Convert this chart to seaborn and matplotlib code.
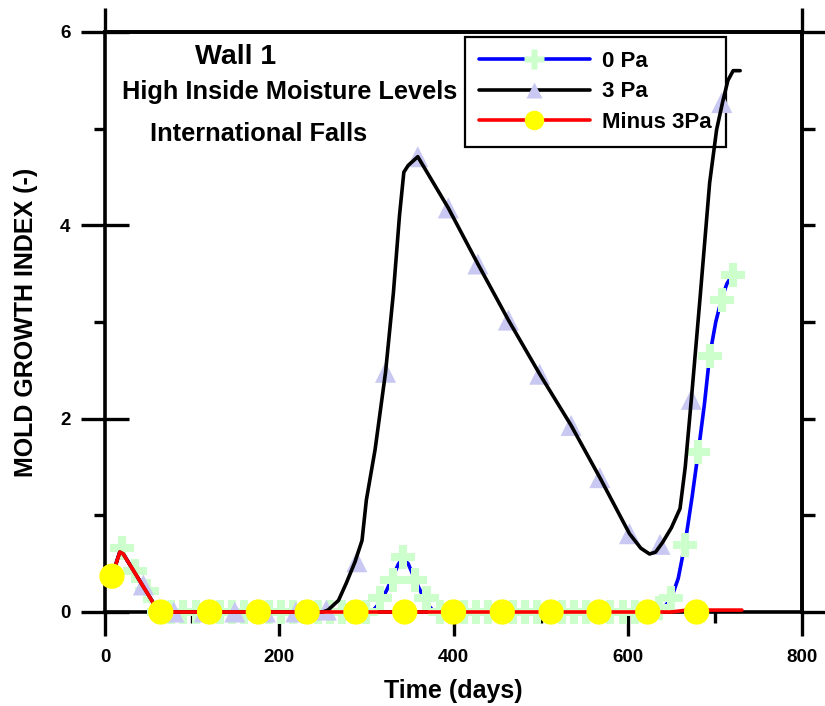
import numpy as np
import pandas as pd
import seaborn as sns
import matplotlib.pyplot as plt
from matplotlib.lines import Line2D

# line data (days, mold index)
days_0pa = [8, 17, 21, 55, 60, 306, 316, 323, 330, 337, 342, 348, 356, 363, 370, 378,
            630, 640, 650, 658, 666, 674, 681, 688, 694, 701, 708, 714, 719]
vals_0pa = [0.37, 0.62, 0.60, 0.10, 0.0, 0.0, 0.1, 0.22, 0.36, 0.50, 0.55, 0.50, 0.33, 0.2, 0.08, 0.0,
            0.0, 0.03, 0.14, 0.35, 0.72, 1.2, 1.66, 2.15, 2.65, 3.0, 3.25, 3.4, 3.47]

days_3pa = [8, 17, 21, 55, 60, 250, 256, 268, 277, 287, 295, 300, 310, 322, 331, 338, 343, 348, 359,
            394, 428, 463, 499, 535, 568, 602, 615, 625, 632, 640, 650, 660, 666, 673, 683, 694, 702,
            709, 715, 721, 729]
vals_3pa = [0.37, 0.62, 0.60, 0.10, 0.0, 0.0, 0.02, 0.12, 0.30, 0.52, 0.74, 1.16, 1.68, 2.48, 3.30, 4.10,
            4.55, 4.62, 4.71, 4.18, 3.60, 3.02, 2.46, 1.93, 1.39, 0.81, 0.66, 0.60, 0.62, 0.72, 0.87,
            1.07, 1.50, 2.20, 3.25, 4.44, 4.99, 5.28, 5.50, 5.60, 5.60]

days_m3pa = [8, 17, 21, 55, 60, 650, 668, 731]
vals_m3pa = [0.37, 0.62, 0.60, 0.10, 0.0, 0.0, 0.02, 0.02]

# symbol positions
sym_days_0pa = [20, 34, 48, 62, 76, 90, 104, 118, 132, 146, 160, 174, 188, 202, 216, 230, 244, 258,
                272, 286, 300, 316, 330, 342, 356, 369, 384, 398, 412, 426, 440, 454, 468, 482, 496,
                510, 524, 538, 552, 566, 580, 594, 608, 622, 636, 650, 666, 681, 694, 708, 721]
sym_vals_0pa = [0.66, 0.42, 0.22, 0, 0, 0, 0, 0, 0, 0, 0, 0, 0, 0, 0, 0, 0, 0,
                0, 0, 0, 0.14, 0.33, 0.57, 0.33, 0.14, 0, 0, 0, 0, 0, 0, 0, 0, 0,
                0, 0, 0, 0, 0, 0, 0, 0, 0, 0.04, 0.14, 0.69, 1.66, 2.65, 3.23, 3.49]

sym_days_3pa = [44, 79, 114, 149, 184, 219, 254, 289, 322, 359, 394, 428, 463, 499, 535, 568, 602,
                637, 673, 708]
sym_vals_3pa = [0.28, 0, 0, 0, 0, 0, 0.02, 0.52, 2.48, 4.71, 4.18, 3.60, 3.02, 2.46, 1.93, 1.39, 0.81,
                0.70, 2.20, 5.27]

sym_days_m3pa = [8, 64, 120, 176, 232, 288, 344, 400, 456, 512, 567, 623, 679]
sym_vals_m3pa = [0.37, 0, 0, 0, 0, 0, 0, 0, 0, 0, 0, 0, 0]

labels = ['0 Pa', '3 Pa', 'Minus 3Pa']

sns.set_theme(style='ticks', rc={'axes.edgecolor': 'black', 'xtick.color': 'black',
                                 'ytick.color': 'black', 'text.color': 'black',
                                 'axes.labelcolor': 'black'})
plt.rcParams['font.family'] = ['Liberation Sans', 'DejaVu Sans']
plt.rcParams['font.weight'] = 'bold'
plt.rcParams['axes.labelweight'] = 'bold'

fig = plt.figure(figsize=(8.25, 7.06), dpi=100)
ax = fig.add_axes([105 / 825, 1 - 612 / 706, 697 / 825, 580 / 706])

lw = 2.6
sns.lineplot(x=days_0pa, y=vals_0pa, ax=ax, color='#0000ff', lw=lw, sort=False, estimator=None,
             zorder=3, clip_on=False)
sns.scatterplot(x=sym_days_0pa, y=sym_vals_0pa, ax=ax, marker='P', s=300, color='#ccffcc',
                edgecolor='none', linewidth=0, zorder=4, clip_on=False)
sns.scatterplot(x=sym_days_3pa, y=sym_vals_3pa, ax=ax, marker='^', s=230, color='#c8c8f2',
                edgecolor='none', linewidth=0, zorder=5, clip_on=False)
sns.lineplot(x=days_3pa, y=vals_3pa, ax=ax, color='black', lw=lw, sort=False, estimator=None,
             zorder=6, clip_on=False)
sns.lineplot(x=days_m3pa, y=vals_m3pa, ax=ax, color='#ff0000', lw=lw, sort=False, estimator=None,
             zorder=7, clip_on=False)
sns.scatterplot(x=sym_days_m3pa, y=sym_vals_m3pa, ax=ax, marker='o', s=330, color='#ffff00',
                edgecolor='none', linewidth=0, zorder=8, clip_on=False)

ax.set_xlim(0, 800)
ax.set_ylim(0, 6)
ax.set_xticks([0, 200, 400, 600, 800])
ax.set_xticks([100, 300, 500, 700], minor=True)
ax.set_yticks([0, 2, 4, 6])
ax.set_yticks([1, 3, 5], minor=True)
ax.tick_params(axis='x', which='major', direction='out', length=17, width=2.4, labelsize=13.5, pad=10)
ax.tick_params(axis='x', which='minor', direction='out', length=8, width=2.4)
ax.tick_params(axis='y', which='major', direction='inout', length=34, width=2.4, labelsize=13.5, pad=8)
ax.tick_params(axis='y', which='minor', direction='out', length=8, width=2.4)
for sp in ax.spines.values():
    sp.set_linewidth(2.6)
    sp.set_visible(True)

# ticks on the top and right frame lines
top = ax.secondary_xaxis('top')
top.set_xticks([0, 800])
top.set_xticklabels([])
top.tick_params(which='major', direction='out', length=17, width=2.4)
top.spines['top'].set_linewidth(2.6)

right = ax.secondary_yaxis('right')
right.set_yticks([0, 6])
right.set_yticks([1, 2, 3, 4, 5], minor=True)
right.set_yticklabels([])
right.tick_params(which='major', direction='out', length=17, width=2.4)
right.tick_params(which='minor', direction='out', length=9, width=2.4)
right.spines['right'].set_linewidth(2.6)

ax.set_xlabel('Time (days)', fontsize=18, fontweight='bold', labelpad=9)
ax.set_ylabel('MOLD GROWTH INDEX (-)', fontsize=18, fontweight='bold', labelpad=16)

ax.text(103, 5.74, 'Wall 1', fontsize=20.5, fontweight='bold', ha='left', va='center')
ax.text(20, 5.38, 'High Inside Moisture Levels', fontsize=18.3, fontweight='bold', ha='left', va='center')
ax.text(52, 4.94, 'International Falls', fontsize=18.3, fontweight='bold', ha='left', va='center')

handles = [
    Line2D([], [], color='#0000ff', lw=lw, marker='P', markersize=14,
           markerfacecolor='#ccffcc', markeredgecolor='none'),
    Line2D([], [], color='black', lw=lw, marker='^', markersize=12,
           markerfacecolor='#c8c8f2', markeredgecolor='none'),
    Line2D([], [], color='#ff0000', lw=lw, marker='o', markersize=14,
           markerfacecolor='#ffff00', markeredgecolor='none'),
]
leg = ax.legend(handles, labels, loc='upper left', bbox_to_anchor=(465 / 825, 1 - 37 / 706),
                bbox_transform=fig.transFigure, fontsize=16, frameon=True, fancybox=False,
                framealpha=1, edgecolor='black', borderpad=0.62, labelspacing=0.43,
                handlelength=5.0, handletextpad=0.55, borderaxespad=0)
leg.get_frame().set_linewidth(1.6)
for t in leg.get_texts():
    t.set_fontweight('bold')
# data curves pass over the legend box in the original
leg.set_zorder(2.7)

fig.savefig('out.png', dpi=100)
